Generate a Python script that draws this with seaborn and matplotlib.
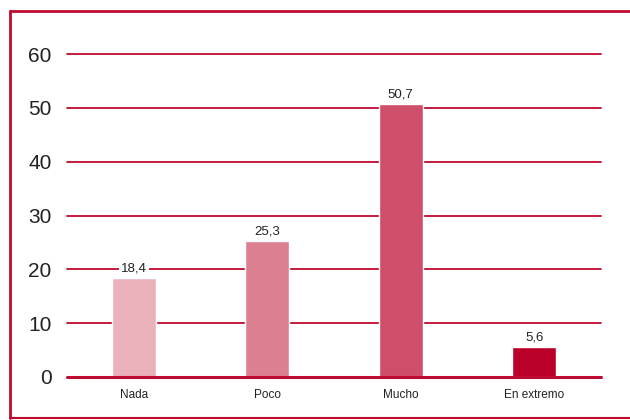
import pandas as pd
import numpy as np
import matplotlib.pyplot as plt
import seaborn as sns
from matplotlib.lines import Line2D

# datos
categorias = ["Nada", "Poco", "Mucho", "En extremo"]
valores = [18.4, 25.3, 50.7, 5.6]
etiquetas = ["18,4", "25,3", "50,7", "5,6"]
colores = ["#EAB1BB", "#DC7F90", "#CF4F6A", "#BA0028"]
yticks = [0, 10, 20, 30, 40, 50, 60]

rojo = "#BE0A2E"

df = pd.DataFrame({"cat": categorias, "val": valores})

sns.set_style("white")
plt.rcParams["font.family"] = ["Liberation Sans", "DejaVu Sans"]

fig = plt.figure(figsize=(6.3, 4.2), dpi=100)
ax = fig.add_axes([0.1063, 0.1024, 0.954 - 0.1063, 0.8714 - 0.1024])

for y in yticks[1:]:
    ax.axhline(y, color=rojo, lw=1.3, zorder=1, clip_on=False)
ax.axhline(0, color=rojo, lw=2.2, zorder=4, clip_on=False)

sns.barplot(data=df, x="cat", y="val", hue="cat", palette=colores,
            width=0.33, legend=False, ax=ax, zorder=3, saturation=1)

for i, (v, t) in enumerate(zip(valores, etiquetas)):
    ax.text(i, v + 0.6, t, ha="center", va="bottom", fontsize=9.5, color="#222222",
            bbox=dict(facecolor="white", edgecolor="none", pad=1.5), zorder=5)

ax.set_ylim(0, 60)
ax.set_xlim(-0.5, 3.5)
ax.set_yticks(yticks)
ax.set_yticklabels([str(y) for y in yticks], fontsize=15, color="#222222")
ax.tick_params(axis="x", labelsize=8.5, colors="#222222", length=0, pad=9)
ax.tick_params(axis="y", length=0, pad=11)
ax.set_xlabel("")
ax.set_ylabel("")
for s in ax.spines.values():
    s.set_visible(False)

# marco
fig.add_artist(Line2D([9.5 / 630, 1.0], [1 - 10.5 / 420] * 2, color=rojo, lw=2, transform=fig.transFigure))
fig.add_artist(Line2D([9.5 / 630] * 2, [1 - 10.5 / 420, 1 - 418 / 420], color=rojo, lw=2, transform=fig.transFigure))
fig.add_artist(Line2D([9.5 / 630, 1.0], [1 - 418 / 420] * 2, color=rojo, lw=1.5, transform=fig.transFigure))

plt.savefig("out.png", dpi=100)
